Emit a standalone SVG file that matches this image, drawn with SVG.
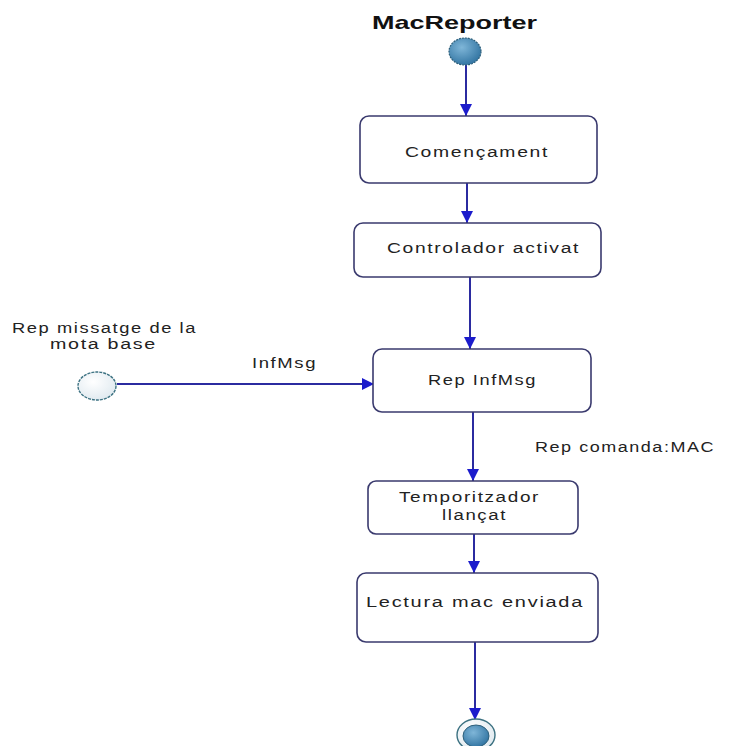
<svg xmlns="http://www.w3.org/2000/svg" width="729" height="746" viewBox="0 0 729 746">
<style>
.box{fill:#ffffff;stroke:#3a3a6e;stroke-width:1.6}
.lbl{font-family:"Liberation Sans",Arial,sans-serif;font-size:14px;fill:#222222;letter-spacing:1.2px}
.edge{stroke:#2b2ba0;stroke-width:2;fill:none}
</style>
<defs>
<marker id="ah" viewBox="0 0 10 10" refX="10" refY="5" markerWidth="6" markerHeight="6" orient="auto" markerUnits="strokeWidth">
<path d="M0,0 L10,5 L0,10 Z" fill="#1c1ccc"/>
</marker>
<radialGradient id="gstart" cx="40%" cy="35%" r="70%">
<stop offset="0" stop-color="#7fb6d8"/>
<stop offset="1" stop-color="#2f72a0"/>
</radialGradient>
<radialGradient id="glight" cx="40%" cy="35%" r="70%">
<stop offset="0" stop-color="#ffffff"/>
<stop offset="1" stop-color="#dfe9ef"/>
</radialGradient>
</defs>
<rect width="729" height="746" fill="#ffffff"/>

<text x="372" y="29" font-family="Liberation Sans,Arial,sans-serif" font-weight="bold" font-size="19" fill="#111111" textLength="165" lengthAdjust="spacingAndGlyphs">MacReporter</text>

<g id="edges">
<line class="edge" x1="466" y1="65" x2="466" y2="116" marker-end="url(#ah)"/>
<line class="edge" x1="467" y1="183" x2="467" y2="223" marker-end="url(#ah)"/>
<line class="edge" x1="470" y1="277" x2="470" y2="349" marker-end="url(#ah)"/>
<line class="edge" x1="117" y1="384" x2="374" y2="384" marker-end="url(#ah)"/>
<line class="edge" x1="473" y1="412" x2="473" y2="481" marker-end="url(#ah)"/>
<line class="edge" x1="474" y1="534" x2="474" y2="573" marker-end="url(#ah)"/>
<line class="edge" x1="475" y1="642" x2="475" y2="720" marker-end="url(#ah)"/>
<text class="lbl" x="252" y="368" textLength="65" lengthAdjust="spacingAndGlyphs">InfMsg</text>
<text class="lbl" x="535" y="452" textLength="180" lengthAdjust="spacingAndGlyphs">Rep comanda:MAC</text>
</g>

<g id="start">
<ellipse cx="465" cy="51.5" rx="16" ry="13.5" fill="url(#gstart)" stroke="#2d5f7a" stroke-width="1.2" stroke-dasharray="2,1"/>
</g>

<g id="extsource">
<ellipse cx="97" cy="386" rx="19" ry="14" fill="url(#glight)" stroke="#3d7282" stroke-width="1.4" stroke-dasharray="3,1"/>
<text class="lbl" x="12" y="333" textLength="185" lengthAdjust="spacingAndGlyphs">Rep missatge de la</text>
<text class="lbl" x="50" y="349" textLength="107" lengthAdjust="spacingAndGlyphs">mota base</text>
</g>

<g id="n1">
<rect class="box" x="360" y="116" width="237" height="67" rx="9"/>
<text class="lbl" x="405" y="157" textLength="144" lengthAdjust="spacingAndGlyphs">Començament</text>
</g>

<g id="n2">
<rect class="box" x="354" y="223" width="247" height="54" rx="9"/>
<text class="lbl" x="387" y="253" textLength="193" lengthAdjust="spacingAndGlyphs">Controlador activat</text>
</g>

<g id="n3">
<rect class="box" x="373" y="349" width="218" height="63" rx="9"/>
<text class="lbl" x="428" y="385" textLength="109" lengthAdjust="spacingAndGlyphs">Rep InfMsg</text>
</g>

<g id="n4">
<rect class="box" x="368" y="481" width="210" height="53" rx="8"/>
<text class="lbl" x="399" y="502" textLength="141" lengthAdjust="spacingAndGlyphs">Temporitzador</text>
<text class="lbl" x="442" y="520" textLength="65" lengthAdjust="spacingAndGlyphs">llançat</text>
</g>

<g id="n5">
<rect class="box" x="357" y="573" width="241" height="69" rx="9"/>
<text class="lbl" x="366" y="607" textLength="218" lengthAdjust="spacingAndGlyphs">Lectura mac enviada</text>
</g>

<g id="end">
<ellipse cx="476" cy="735" rx="19" ry="16" fill="url(#glight)" stroke="#3d7282" stroke-width="1.4"/>
<ellipse cx="476" cy="736" rx="13" ry="11" fill="url(#gstart)" stroke="#2d5f7a" stroke-width="1"/>
</g>
</svg>
